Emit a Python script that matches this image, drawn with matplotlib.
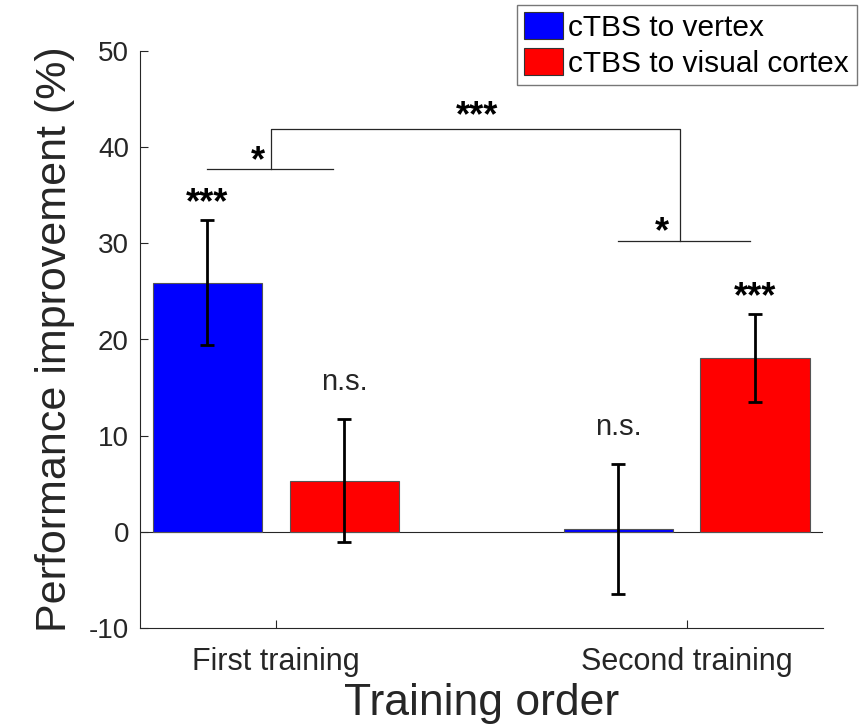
import numpy as np
import matplotlib
matplotlib.use("Agg")
import matplotlib.pyplot as plt
from matplotlib.patches import Patch

plt.rcParams['font.family'] = ['Liberation Sans', 'DejaVu Sans']
plt.rcParams['axes.unicode_minus'] = False

groups = ['First training', 'Second training']
series = ['cTBS to vertex', 'cTBS to visual cortex']
colors = ['#0000ff', '#ff0000']
means = [[25.9, 0.3],   # vertex
         [5.3, 18.1]]   # visual cortex
errs = [[6.5, 6.8],
        [6.4, 4.6]]
bar_marks = [['***', 'n.s.'],
             ['n.s.', '***']]

fig = plt.figure(figsize=(8.59, 7.25), dpi=100)
ax = fig.add_axes([140/859, 1 - 628/725, (823 - 140)/859, 577/725])

x = np.arange(1, len(groups) + 1)
offs = [-1/6, 1/6]
w = 0.266
ink = '#262626'
for i in range(2):
    xs = x + offs[i]
    ax.bar(xs, means[i], w, color=colors[i], edgecolor='#555555', linewidth=0.8, zorder=2)
    ax.errorbar(xs, means[i], yerr=errs[i], fmt='none', ecolor='black',
                elinewidth=2, capsize=5, capthick=2, zorder=3)
    for j in range(2):
        m = bar_marks[i][j]
        top = means[i][j] + errs[i][j]
        if m == '***':
            ax.annotate(m, (xs[j], top), xytext=(0, -1), textcoords='offset points',
                        ha='center', va='bottom', fontsize=26, fontweight='bold')
        else:
            ax.annotate(m, (xs[j], top), xytext=(0, 16.5), textcoords='offset points',
                        ha='center', va='bottom', fontsize=21, color=ink)

ax.axhline(0, color=ink, linewidth=0.8, zorder=1)

# significance brackets
lc = dict(color=ink, linewidth=0.9)
ax.plot([x[0] + offs[0], 1.14], [37.7, 37.7], **lc)
ax.plot([0.988, 0.988, 1.985, 1.985], [37.7, 41.9, 41.9, 30.2], **lc)
ax.plot([x[1] + offs[0], 2.155], [30.2, 30.2], **lc)
ax.text(0.955, 36.7, '*', ha='center', va='bottom', fontsize=26, fontweight='bold')
ax.text(1.49, 41.3, '***', ha='center', va='bottom', fontsize=26, fontweight='bold')
ax.text(1.94, 29.3, '*', ha='center', va='bottom', fontsize=26, fontweight='bold')

ax.set_xlim(0.669, 2.332)
ax.set_ylim(-10, 50)
ax.set_yticks(range(-10, 51, 10))
ax.set_xticks(x)
ax.set_xticklabels(groups, color=ink)
ax.tick_params(direction='in', length=6, width=0.8, colors=ink, labelsize=20)
ax.tick_params(axis='x', labelsize=22, pad=14)
ax.tick_params(axis='y', pad=8)
for s in ['top', 'right']:
    ax.spines[s].set_visible(False)
for s in ['left', 'bottom']:
    ax.spines[s].set_color(ink)
    ax.spines[s].set_linewidth(0.8)

ax.set_ylabel('Performance improvement (%)', fontsize=31, color=ink, labelpad=10)
ax.set_xlabel('Training order', fontsize=32, color=ink, labelpad=4)

handles = [Patch(facecolor=c, edgecolor='#333333', linewidth=0.8) for c in colors]
fig.legend(handles, series, loc='upper left', bbox_to_anchor=(517/859, 1 - 5/725),
           fontsize=21.5, frameon=True, fancybox=False, edgecolor='#555555',
           handlelength=1.3, handleheight=1.0, handletextpad=0.17,
           borderpad=0.25, labelspacing=0.2, borderaxespad=0)

fig.savefig('out.png', dpi=100)
